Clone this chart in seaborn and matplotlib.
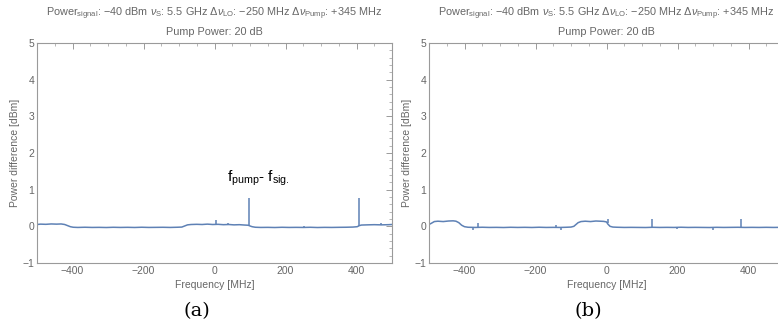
import numpy as np
import pandas as pd
import seaborn as sns
import matplotlib
matplotlib.use("Agg")
import matplotlib.pyplot as plt
from matplotlib.ticker import MultipleLocator

# ---------------- data ----------------
freq_a = [-500, -490, -475, -460, -445, -432, -422, -414, -406, -398,
          -385, -365, -345, -325, -305, -285, -265, -245, -225, -205,
          -185, -165, -145, -125, -105, -92, -84, -76, -66, -50,
          -35, -20, -5, 10, 25, 40, 55, 70, 85, 95,
          100, 106, 115, 130, 150, 170, 190, 210, 230, 250,
          270, 290, 310, 330, 350, 370, 390, 402, 408, 414,
          430, 450, 470, 490, 500]
level_a = [0.05, 0.06, 0.055, 0.065, 0.06, 0.065, 0.05, 0.02, -0.01, -0.025,
           -0.03, -0.025, -0.03, -0.028, -0.032, -0.026, -0.03, -0.027, -0.031, -0.025,
           -0.03, -0.028, -0.026, -0.03, -0.025, -0.02, 0.01, 0.04, 0.05, 0.055,
           0.05, 0.06, 0.05, 0.055, 0.045, 0.05, 0.04, 0.045, 0.035, 0.03,
           0.01, -0.01, -0.025, -0.03, -0.028, -0.032, -0.026, -0.03, -0.028, -0.03,
           -0.026, -0.032, -0.028, -0.03, -0.027, -0.025, -0.02, -0.01, 0.02, 0.035,
           0.04, 0.045, 0.04, 0.045, 0.05]
spike_a_freq = [3, 37, 96, 253, 408, 468]
spike_a_base = [0.05, 0.045, 0.03, -0.03, 0.02, 0.045]
spike_a_top = [0.17, 0.09, 0.78, 0.0, 0.78, 0.08]

freq_b = [-500, -494, -485, -475, -460, -445, -432, -424, -416, -408,
          -400, -390, -370, -350, -330, -310, -290, -270, -250, -230,
          -210, -190, -170, -150, -130, -115, -100, -92, -86, -80,
          -72, -60, -45, -30, -18, -8, 0, 4, 10, 18,
          30, 50, 70, 90, 110, 130, 150, 170, 190, 210,
          230, 250, 270, 290, 310, 330, 350, 370, 390, 410,
          430, 450, 470, 490, 500]
level_b = [0.05, 0.08, 0.13, 0.14, 0.13, 0.145, 0.15, 0.14, 0.1, 0.03,
           -0.01, -0.025, -0.03, -0.025, -0.03, -0.028, -0.032, -0.026, -0.03, -0.027,
           -0.031, -0.025, -0.03, -0.028, -0.03, -0.026, -0.02, 0.0, 0.05, 0.1,
           0.13, 0.14, 0.13, 0.145, 0.14, 0.135, 0.12, 0.06, 0.0, -0.02,
           -0.025, -0.03, -0.028, -0.03, -0.032, -0.026, -0.03, -0.028, -0.03, -0.025,
           -0.03, -0.028, -0.03, -0.032, -0.027, -0.03, -0.028, -0.026, -0.03, -0.028,
           -0.03, -0.027, -0.03, -0.028, -0.03]
spike_b_freq = [-376, -362, -141, -127, 3, 127, 198, 299, 378]
spike_b_base = [-0.03, -0.03, -0.03, -0.03, 0.1, -0.03, -0.03, -0.03, -0.03]
spike_b_top = [-0.1, 0.09, 0.05, -0.1, 0.19, 0.19, -0.08, -0.1, 0.19]

x_ticks = [-400, -200, 0, 200, 400]
y_ticks = [-1, 0, 1, 2, 3, 4, 5]
panel_labels = ["(a)", "(b)"]
title_line1 = (r"Power$_{\mathregular{signal}}$: $-$40 dBm $\nu_{\mathregular{S}}$: 5.5 GHz "
               r"$\Delta\nu_{\mathregular{LO}}$: $-$250 MHz "
               r"$\Delta\nu_{\mathregular{Pump}}$: +345 MHz")
title_line2 = "Pump Power: 20 dB"
annotation = r"$\mathregular{f_{pump}}$- $\mathregular{f_{sig.}}$"

# ---------------- style ----------------
sns.set_theme(style="white")
plt.rcParams['font.family'] = ['Liberation Sans', 'DejaVu Sans']
plt.rcParams['mathtext.fontset'] = 'custom'
plt.rcParams['mathtext.rm'] = 'Liberation Sans'
plt.rcParams['mathtext.it'] = 'Liberation Sans:italic'

LINE = "#5E81B5"
FRAME = "#9a9a9a"
TXT = "#666666"

W, H = 778, 330
fig = plt.figure(figsize=(W / 100, H / 100), dpi=100)
ax_w = 355 / W
ax_h = 220 / H
bottom = 1 - 263 / H
axes = [fig.add_axes([37 / W, bottom, ax_w, ax_h]),
        fig.add_axes([429 / W, bottom, ax_w, ax_h])]

datasets = [
    (freq_a, level_a, spike_a_freq, spike_a_base, spike_a_top),
    (freq_b, level_b, spike_b_freq, spike_b_base, spike_b_top),
]

for i, (ax, (f, lv, sf, sb, st)) in enumerate(zip(axes, datasets)):
    df = pd.DataFrame({"Frequency": f, "Level": lv})
    sns.lineplot(data=df, x="Frequency", y="Level", ax=ax, color=LINE,
                 linewidth=1.1, estimator=None, sort=False)
    ax.vlines(sf, sb, st, color=LINE, linewidth=1.1)
    ax.set_xlim(-500, 500)
    ax.set_ylim(-1, 5)
    ax.set_xticks(x_ticks)
    ax.set_xticklabels([str(t).replace("-", "\u2212") for t in x_ticks])
    ax.set_yticks(y_ticks)
    ax.set_yticklabels([str(t).replace("-", "\u2212") for t in y_ticks])
    ax.xaxis.set_minor_locator(MultipleLocator(50))
    ax.yaxis.set_minor_locator(MultipleLocator(0.2))
    ax.tick_params(which="both", direction="in", top=True, right=True,
                   color=FRAME, labelcolor=TXT, labelsize=7.5, pad=2)
    ax.tick_params(which="major", length=4, width=0.7)
    ax.tick_params(which="minor", length=2, width=0.5)
    for sp in ax.spines.values():
        sp.set_color(FRAME)
        sp.set_linewidth(0.8)
    ax.set_xlabel("Frequency [MHz]", color=TXT, fontsize=7.5, labelpad=3)
    ax.set_ylabel("Power difference [dBm]", color=TXT, fontsize=7.5, labelpad=2)
    ax.set_title(title_line1 + "\n" + title_line2, color=TXT, fontsize=7.8,
                 pad=6, linespacing=1.6)

axes[0].text(125, 1.22, annotation, color="black", fontsize=11,
             ha="center", va="baseline")

fig.text(197 / W, 1 - 311 / H, panel_labels[0], family="DejaVu Serif",
         fontsize=14, ha="center", va="center", color="black")
fig.text(588 / W, 1 - 311 / H, panel_labels[1], family="DejaVu Serif",
         fontsize=14, ha="center", va="center", color="black")

fig.savefig("out.png", dpi=100)
